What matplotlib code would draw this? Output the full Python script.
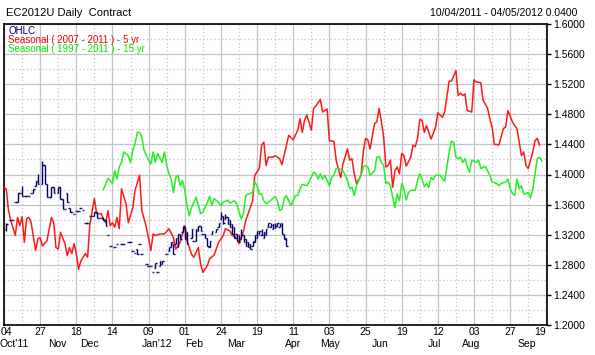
import numpy as np
import matplotlib
matplotlib.use("Agg")
from matplotlib import pyplot as plt
from matplotlib.ticker import MultipleLocator, FormatStrFormatter
from matplotlib.transforms import blended_transform_factory

plt.rcParams['font.family'] = ['Liberation Sans Narrow', 'Liberation Sans', 'DejaVu Sans']

# trading-day index since 04 Oct 2011
red_day = [0,1,2,3,5,6,7,8,9,10,11,12,14,15,16,17,19,21,22,23,24,25,27,28,29,30,31,32,33,34,36,37,38,40,41,43,44,45,46,47,48,49,50,51,52,54,55,57,58,60,61,63,65,66,67,69,71,73,75,76,78,79,80,81,83,84,86,87,88,90,91,93,95,97,98,100,101,103,104,106,107,110,111,113,114,115,116,117,119,120,122,123,125,126,128,130,131,132,133,134,136,137,138,140,141,142,143,144,146,147,149,150,152,153,154,155,156,158,159,160,161,162,164,165,166,167,168,169,170,171,172,173,174,175,176,177,178,180,181,182,183,184,185,186,187,189,191,192,193,194,195,197,198,200,201,202,203,204,205,207,208,209,211,212,214,215,216,217,218,219,221,222,223,225,226,227,229,230,231,232,234,235,236,237]
red_val = [1.383,1.381,1.352,1.339,1.319,1.343,1.332,1.344,1.310,1.341,1.343,1.336,1.299,1.315,1.316,1.305,1.312,1.343,1.336,1.303,1.301,1.323,1.308,1.292,1.303,1.295,1.308,1.295,1.274,1.285,1.295,1.290,1.334,1.368,1.348,1.348,1.341,1.336,1.352,1.332,1.336,1.330,1.343,1.328,1.381,1.361,1.336,1.356,1.379,1.399,1.352,1.330,1.299,1.321,1.319,1.321,1.321,1.328,1.316,1.301,1.310,1.321,1.332,1.312,1.294,1.290,1.303,1.281,1.270,1.279,1.288,1.293,1.310,1.319,1.328,1.325,1.319,1.316,1.308,1.325,1.339,1.365,1.399,1.408,1.439,1.443,1.412,1.423,1.423,1.425,1.421,1.413,1.439,1.452,1.446,1.459,1.474,1.456,1.472,1.479,1.459,1.488,1.491,1.500,1.483,1.485,1.487,1.445,1.444,1.419,1.396,1.414,1.434,1.419,1.421,1.401,1.388,1.399,1.430,1.448,1.446,1.434,1.468,1.470,1.488,1.470,1.450,1.410,1.412,1.419,1.383,1.405,1.410,1.401,1.428,1.425,1.411,1.423,1.439,1.437,1.448,1.473,1.472,1.456,1.465,1.447,1.463,1.482,1.479,1.476,1.483,1.524,1.524,1.538,1.505,1.508,1.505,1.507,1.485,1.483,1.526,1.523,1.522,1.499,1.488,1.474,1.463,1.440,1.440,1.439,1.461,1.463,1.485,1.470,1.465,1.461,1.425,1.430,1.412,1.408,1.430,1.445,1.448,1.439]

green_day = [44,46,47,48,49,50,51,52,53,55,56,57,58,59,60,61,62,64,65,66,67,68,70,71,72,73,74,75,76,77,78,79,80,81,82,83,85,86,87,88,90,91,92,93,95,96,97,99,100,102,103,104,105,106,107,108,110,111,112,113,114,115,116,117,119,120,121,122,123,124,125,126,127,129,130,131,132,134,135,137,138,139,140,141,142,144,145,146,147,148,150,151,152,153,154,155,156,158,159,160,161,162,164,165,166,167,168,169,170,171,172,173,174,175,176,177,178,179,180,182,183,184,185,186,187,188,189,190,191,193,195,196,197,198,199,200,201,202,203,204,205,206,207,209,210,211,213,214,215,216,218,219,220,222,223,224,225,226,227,228,229,230,232,233,234,235,236,237,238]
green_val = [1.380,1.395,1.392,1.388,1.405,1.394,1.410,1.416,1.430,1.425,1.416,1.432,1.441,1.456,1.456,1.450,1.432,1.419,1.414,1.430,1.416,1.428,1.416,1.430,1.412,1.401,1.394,1.376,1.396,1.399,1.385,1.392,1.379,1.359,1.345,1.356,1.370,1.359,1.348,1.350,1.363,1.371,1.359,1.368,1.363,1.359,1.363,1.366,1.362,1.365,1.361,1.350,1.341,1.348,1.372,1.374,1.376,1.390,1.385,1.374,1.374,1.365,1.361,1.363,1.368,1.371,1.365,1.352,1.354,1.368,1.372,1.365,1.359,1.372,1.372,1.381,1.387,1.385,1.390,1.403,1.401,1.394,1.401,1.394,1.399,1.385,1.396,1.399,1.408,1.408,1.405,1.399,1.392,1.381,1.383,1.372,1.385,1.399,1.410,1.412,1.410,1.399,1.405,1.423,1.424,1.416,1.412,1.388,1.390,1.385,1.370,1.356,1.374,1.365,1.388,1.381,1.366,1.376,1.379,1.379,1.392,1.401,1.394,1.384,1.388,1.383,1.396,1.393,1.399,1.399,1.391,1.410,1.430,1.444,1.443,1.423,1.421,1.423,1.416,1.421,1.411,1.403,1.419,1.416,1.419,1.408,1.411,1.405,1.399,1.390,1.388,1.385,1.388,1.390,1.394,1.381,1.375,1.372,1.394,1.381,1.385,1.374,1.376,1.369,1.381,1.401,1.421,1.423,1.418]

# EC2012U daily bars
bar_day = [1,3,4,5,6,7,8,9,10,11,12,13,14,15,17,18,19,20,21,22,24,25,26,27,28,29,30,31,32,33,34,35,36,37,38,39,40,41,42,43,44,45,46,47,
           49,50,52,53,55,56,57,58,59,60,61,63,64,65,66,67,68,69,70,72,73,74,75,76,77,78,79,80,81,83,84,85,86,87,88,89,90,91,92,
           94,95,96,97,98,99,100,101,102,103,104,105,106,107,108,109,110,111,112,113,114,115,116,117,118,119,120,121,122,123,124,125]
bar_open = [1.327,1.340,1.339,1.363,1.363,1.376,1.376,1.372,1.372,1.372,1.375,1.375,1.385,1.392,1.388,1.412,1.388,1.370,1.370,1.383,1.375,1.383,1.368,1.354,1.376,1.356,1.350,1.348,1.352,1.352,1.355,1.353,1.336,1.335,1.345,1.345,1.345,1.350,1.342,1.342,1.342,1.339,1.319,1.305,
            1.304,1.307,1.307,1.308,1.310,1.310,1.299,1.296,1.301,1.308,1.294,1.281,1.279,1.279,1.270,1.276,1.270,1.279,1.281,1.294,1.299,1.303,1.308,1.308,1.303,1.321,1.323,1.330,1.323,1.316,1.312,1.312,1.325,1.332,1.321,1.321,1.316,1.303,1.321,
            1.323,1.330,1.341,1.345,1.341,1.343,1.339,1.334,1.330,1.321,1.319,1.314,1.319,1.314,1.310,1.308,1.305,1.310,1.316,1.321,1.319,1.316,1.319,1.330,1.330,1.328,1.329,1.332,1.330,1.336,1.321,1.316]
bar_high = [1.336,1.340,1.339,1.363,1.376,1.376,1.385,1.372,1.372,1.372,1.375,1.381,1.392,1.401,1.418,1.412,1.388,1.370,1.383,1.383,1.383,1.383,1.368,1.354,1.376,1.356,1.350,1.348,1.352,1.352,1.355,1.353,1.336,1.335,1.345,1.345,1.350,1.350,1.342,1.342,1.342,1.339,1.319,1.305,
            1.304,1.307,1.307,1.308,1.310,1.310,1.299,1.296,1.301,1.308,1.294,1.281,1.279,1.279,1.270,1.283,1.270,1.285,1.285,1.294,1.303,1.310,1.308,1.316,1.321,1.321,1.332,1.330,1.323,1.328,1.312,1.328,1.332,1.332,1.321,1.321,1.316,1.312,1.325,
            1.327,1.336,1.350,1.345,1.348,1.343,1.339,1.334,1.330,1.321,1.319,1.328,1.319,1.314,1.310,1.308,1.312,1.319,1.325,1.325,1.328,1.323,1.328,1.336,1.336,1.334,1.336,1.336,1.336,1.336,1.321,1.316]
bar_low = [1.325,1.340,1.339,1.363,1.363,1.376,1.372,1.372,1.372,1.372,1.375,1.375,1.385,1.388,1.388,1.388,1.370,1.370,1.370,1.375,1.375,1.368,1.354,1.354,1.363,1.350,1.350,1.348,1.352,1.352,1.355,1.353,1.336,1.335,1.345,1.345,1.345,1.342,1.342,1.342,1.339,1.332,1.319,1.305,
           1.304,1.307,1.307,1.308,1.310,1.310,1.299,1.296,1.295,1.308,1.294,1.281,1.279,1.279,1.270,1.276,1.270,1.279,1.281,1.294,1.299,1.303,1.294,1.308,1.303,1.314,1.323,1.314,1.308,1.316,1.312,1.312,1.325,1.325,1.321,1.316,1.305,1.303,1.321,
           1.323,1.330,1.341,1.334,1.341,1.334,1.330,1.321,1.316,1.312,1.310,1.314,1.310,1.305,1.303,1.301,1.305,1.310,1.316,1.321,1.319,1.316,1.319,1.330,1.330,1.328,1.329,1.332,1.330,1.321,1.314,1.305]
bar_close = [1.334,1.340,1.339,1.363,1.376,1.376,1.372,1.372,1.372,1.372,1.375,1.381,1.392,1.388,1.412,1.388,1.370,1.370,1.383,1.375,1.383,1.368,1.354,1.354,1.363,1.350,1.350,1.348,1.352,1.352,1.355,1.353,1.336,1.335,1.345,1.345,1.350,1.342,1.342,1.342,1.339,1.332,1.319,1.305,
             1.304,1.307,1.307,1.308,1.310,1.310,1.299,1.296,1.295,1.308,1.294,1.281,1.279,1.279,1.270,1.283,1.270,1.285,1.285,1.294,1.303,1.310,1.294,1.316,1.321,1.314,1.332,1.314,1.308,1.328,1.312,1.328,1.332,1.325,1.321,1.316,1.305,1.312,1.325,
             1.327,1.336,1.345,1.336,1.343,1.334,1.330,1.321,1.316,1.312,1.310,1.319,1.310,1.305,1.303,1.301,1.312,1.319,1.325,1.325,1.319,1.323,1.328,1.336,1.333,1.334,1.332,1.336,1.333,1.321,1.314,1.305]

day_labels = ['04','27','18','14','09','01','24','19','11','03','25','19','12','03','27','19']
month_labels = ["Oct'11", 'Nov', 'Dec', "Jan'12", 'Feb', 'Mar', 'Apr', 'May', 'Jun', 'Jul', 'Aug', 'Sep']
month_pos = [4.4, 23.5, 37.6, 67.7, 84.1, 102.7, 127.9, 144.2, 166.4, 190.3, 206.6, 231.4]

navy = '#000066'
fig = plt.figure(figsize=(5.95, 3.55), dpi=100)
ax = fig.add_axes([4/595, 30/355, 543/595, 301/355])

ax.plot(red_day, red_val, color='#ff1a1a', lw=1.1, zorder=3)
ax.plot(green_day, green_val, color='#22f022', lw=1.1, zorder=3)

d = np.array(bar_day, dtype=float)
ax.vlines(d, bar_low, bar_high, color=navy, lw=1.0, zorder=4)
ax.hlines(bar_open, d - 0.6, d, color=navy, lw=1.0, zorder=4)
ax.hlines(bar_close, d, d + 0.6, color=navy, lw=1.0, zorder=4)

ax.set_xlim(0, 240.3)
ax.set_ylim(1.2, 1.6)
ax.xaxis.set_minor_locator(MultipleLocator(8))
ax.yaxis.set_major_locator(MultipleLocator(0.04))
ax.yaxis.set_minor_locator(MultipleLocator(0.02))
ax.yaxis.set_major_formatter(FormatStrFormatter('%.4f'))
ax.yaxis.tick_right()
ax.set_xticks(np.arange(0, 241, 16))
# first day label is drawn by hand so it does not run off the left edge
ax.set_xticklabels([''] + day_labels[1:])
ax.grid(which='major', color='#c4c4c4', lw=0.9, ls='-', zorder=0)
ax.grid(which='minor', color='#c4c4c4', lw=0.9, ls=(0, (1, 2)), zorder=0)
ax.set_axisbelow(True)
ax.tick_params(axis='y', which='major', length=3, width=1, pad=1.5, labelsize=7.5, direction='out')
ax.tick_params(axis='x', which='major', length=0, pad=1.5, labelsize=7.5)
ax.tick_params(which='minor', length=0)
ax.get_xticklabels()[-1].set_ha('right')
for s in ax.spines.values():
    s.set_linewidth(1.2)
    s.set_color('black')

tr = blended_transform_factory(ax.transData, ax.transAxes)
ax.text(-0.006, -0.022, day_labels[0], transform=ax.transAxes, ha='left', va='center', fontsize=7.5)
for lab, p in zip(month_labels, month_pos):
    ax.text(p, -0.063, lab, transform=tr, ha='center', va='center', fontsize=7.5)

ax.text(0.0074, 0.977, 'OHLC', transform=ax.transAxes, color='#000080', fontsize=7, va='center')
ax.text(0.0074, 0.947, 'Seasonal ( 2007 - 2011 ) - 5 yr', transform=ax.transAxes, color='#ff0000', fontsize=7, va='center')
ax.text(0.0074, 0.917, 'Seasonal ( 1997 - 2011 ) - 15 yr', transform=ax.transAxes, color='#00ee00', fontsize=7, va='center')

fig.text(6/595, 1 - 12.5/355, 'EC2012U Daily  Contract', fontsize=8, va='center', ha='left')
fig.text(577/595, 1 - 12.5/355, '10/04/2011 - 04/05/2012 0.0400', fontsize=7.5, va='center', ha='right')

fig.savefig('out.png', dpi=100)
